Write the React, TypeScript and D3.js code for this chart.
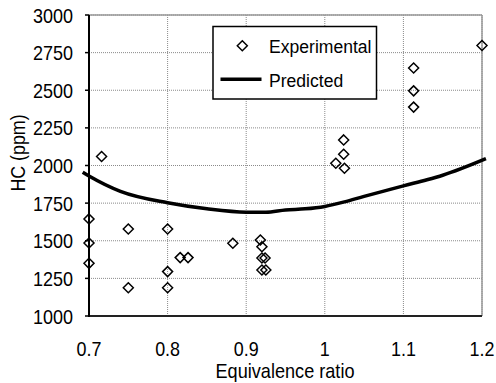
import React from "react";
import * as d3 from "d3";

const expX = [0.7, 0.7, 0.7, 0.716, 0.75, 0.75, 0.8, 0.8, 0.8, 0.816, 0.826, 0.883, 0.918, 0.92, 0.92, 0.924, 0.92, 0.925, 1.014, 1.024, 1.024, 1.025, 1.113, 1.113, 1.113, 1.2];
const expY = [1645, 1485, 1350, 2060, 1578, 1188, 1578, 1295, 1188, 1388, 1388, 1483, 1505, 1460, 1385, 1385, 1306, 1306, 2015, 2170, 2075, 1982, 2648, 2496, 2388, 2797];

const predX = [0.692, 0.7, 0.74, 0.8, 0.85, 0.9, 0.925, 0.95, 0.975, 1.0, 1.025, 1.05, 1.075, 1.1, 1.13, 1.15, 1.205];
const predY = [1955, 1930, 1828, 1752, 1712, 1690, 1690, 1705, 1712, 1728, 1758, 1795, 1830, 1865, 1905, 1935, 2045];

const xTicks = [0.7, 0.8, 0.9, 1.0, 1.1, 1.2];
const xTickLabels = ["0.7", "0.8", "0.9", "1", "1.1", "1.2"];
const yTicks = [1000, 1250, 1500, 1750, 2000, 2250, 2500, 2750, 3000];

const legendLabels = ["Experimental", "Predicted"];
const xTitle = "Equivalence ratio";
const yTitle = "HC (ppm)";

const FONT = "'Liberation Sans', Arial, sans-serif";

export default function App() {
  const x = d3.scaleLinear().domain([0.7, 1.2]).range([89, 482]);
  const y = d3.scaleLinear().domain([1000, 3000]).range([316, 15]);

  const line = d3
    .line<number>()
    .x((_, i) => x(predX[i]))
    .y((d) => y(d))
    .curve(d3.curveMonotoneX);

  const diamond = (cx: number, cy: number, r = 5) =>
    `M${cx},${cy - r}L${cx + r},${cy}L${cx},${cy + r}L${cx - r},${cy}Z`;

  const [x0, x1] = x.range();
  const [y0, y1] = y.range();

  return (
    <svg width={496} height={383} style={{ position: "absolute", left: 0, top: 0, background: "#fff" }} fontFamily={FONT}>
      <rect x={0} y={0} width={496} height={383} fill="#fff" />
      {/* grid */}
      {xTicks.map((t) => (
        <line key={"gx" + t} x1={x(t)} x2={x(t)} y1={y1} y2={y0} stroke="#8a8a8a" strokeWidth={1} strokeDasharray="1,1" />
      ))}
      {yTicks.map((t) => (
        <line key={"gy" + t} x1={x0} x2={x1} y1={y(t)} y2={y(t)} stroke="#8a8a8a" strokeWidth={1} strokeDasharray="1,1" />
      ))}
      {/* border */}
      <line x1={x0} x2={x1} y1={y1} y2={y1} stroke="#999" strokeWidth={1.5} />
      <line x1={x1} x2={x1} y1={y1} y2={y0} stroke="#999" strokeWidth={1.5} />
      {/* axes */}
      <line x1={x0} x2={x1} y1={y0} y2={y0} stroke="#222" strokeWidth={2} />
      <line x1={x0} x2={x0} y1={y1} y2={y0 + 1} stroke="#000" strokeWidth={2} />
      {yTicks.map((t) => (
        <line key={"ty" + t} x1={x0 - 4} x2={x0} y1={y(t)} y2={y(t)} stroke="#000" strokeWidth={1.5} />
      ))}
      {/* tick labels */}
      {yTicks.map((t) => (
        <text key={"ly" + t} transform={`translate(73,${y(t) + 7.5}) scale(0.9,1)`} textAnchor="end" fontSize={20} fill="#000">
          {t}
        </text>
      ))}
      {xTicks.map((t, i) => (
        <text key={"lx" + t} transform={`translate(${x(t)},355.5) scale(0.92,1)`} textAnchor="middle" fontSize={19.5} fill="#000">
          {xTickLabels[i]}
        </text>
      ))}
      {/* titles */}
      <text transform="translate(285,377.5) scale(0.93,1)" textAnchor="middle" fontSize={19.5} fill="#000">
        {xTitle}
      </text>
      <text transform="translate(25,153) rotate(-90) scale(0.87,1)" textAnchor="middle" fontSize={20.5} fill="#000">
        {yTitle}
      </text>
      {/* predicted */}
      <path d={line(predY) || ""} fill="none" stroke="#000" strokeWidth={3.5} strokeLinejoin="round" />
      {/* experimental */}
      {expY.map((v, i) => (
        <path key={"p" + i} d={diamond(x(expX[i]), y(v))} fill="none" stroke="#000" strokeWidth={1.5} />
      ))}
      {/* legend */}
      <rect x={213} y={26.5} width={163.5} height={72.5} fill="#fff" stroke="#000" strokeWidth={1.5} />
      <path d={diamond(242.3, 45.7)} fill="none" stroke="#000" strokeWidth={1.5} />
      <line x1={220.5} x2={261.5} y1={79.3} y2={79.3} stroke="#000" strokeWidth={3.5} />
      <text transform="translate(269,53.3) scale(0.95,1)" fontSize={18.5} fill="#000">
        {legendLabels[0]}
      </text>
      <text transform="translate(269,87) scale(0.95,1)" fontSize={18.5} fill="#000">
        {legendLabels[1]}
      </text>
    </svg>
  );
}
